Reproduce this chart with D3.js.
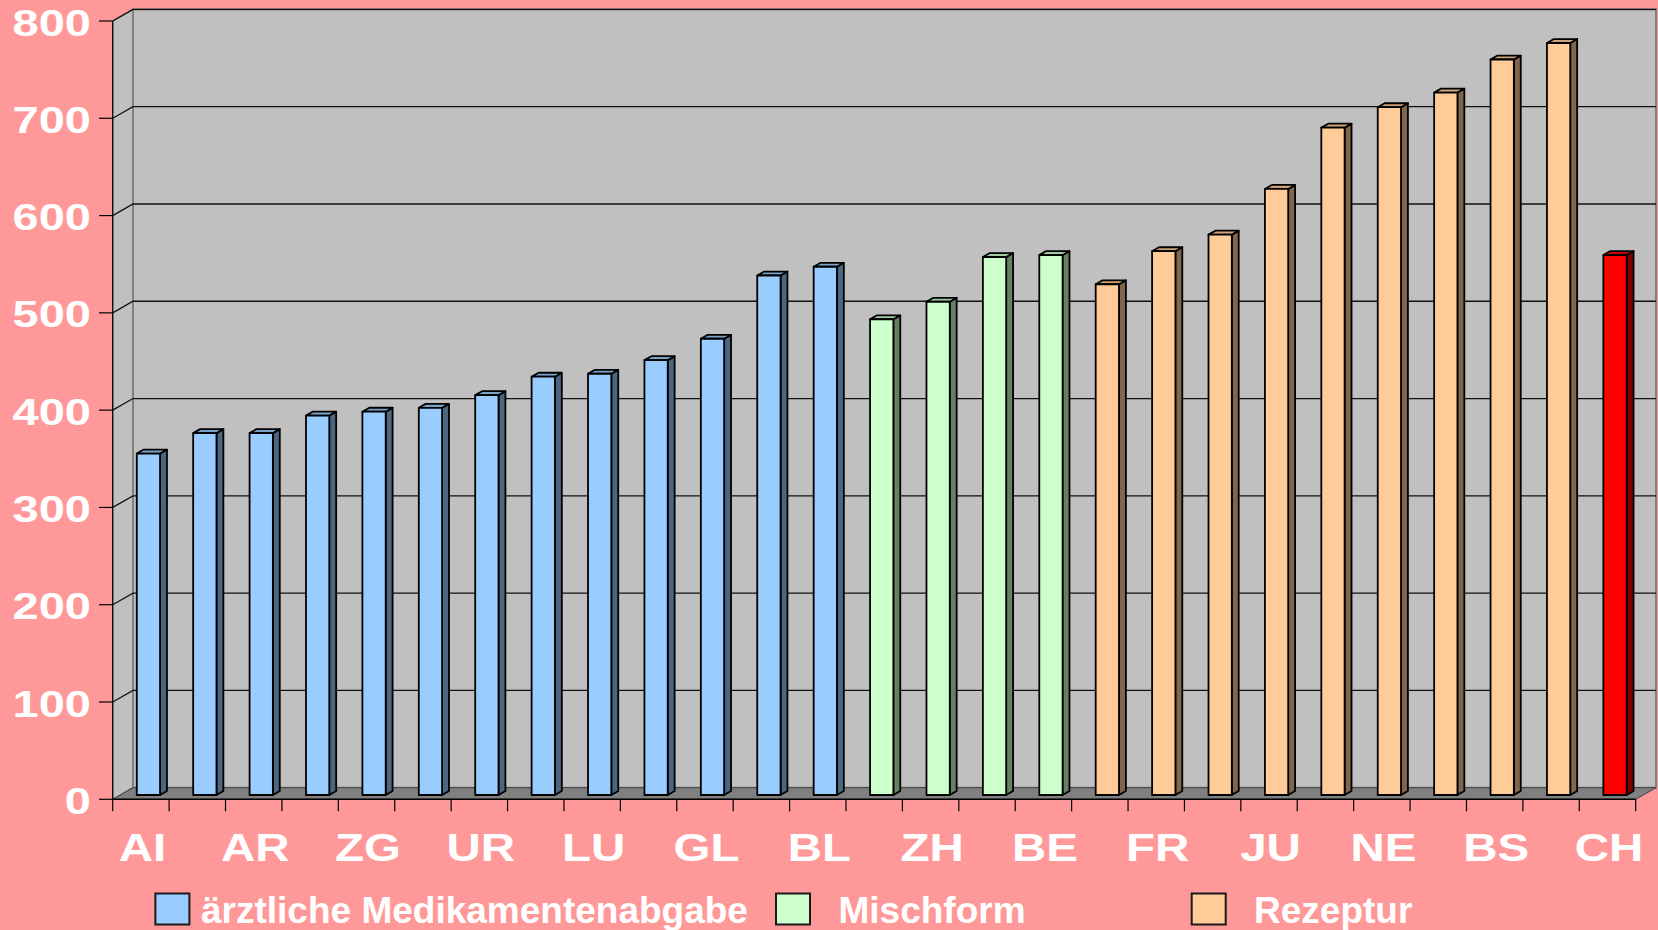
<!DOCTYPE html>
<html>
<head>
<meta charset="utf-8">
<script src="https://cdn.jsdelivr.net/npm/d3@7"></script>
<style>
  body { margin: 0; background: #ff9999; }
  svg { display: block; }
  text { font-family: Arial, "Liberation Sans", sans-serif; font-weight: bold; fill: white; }
</style>
</head>
<body>
<div id="chart"></div>
<script>
// Kantone (nur jedes zweite Label wird angezeigt)
var categories = ["AI", "OW", "AR", "NW", "ZG", "SZ", "UR", "TG", "LU", "SG", "GL", "SO", "BL",
  "SH", "ZH", "GR", "BE",
  "AG", "FR", "TI", "JU", "VS", "NE", "VD", "BS", "GE",
  "CH"]
var values = [351, 372, 372, 390, 394, 398, 411, 430, 433, 447, 469, 534, 543,
  489, 507, 553, 555,
  525, 559, 576, 623, 686, 707, 722, 756, 773,
  555]
var groups = ["arzt", "arzt", "arzt", "arzt", "arzt", "arzt", "arzt", "arzt", "arzt", "arzt", "arzt", "arzt", "arzt",
  "misch", "misch", "misch", "misch",
  "rez", "rez", "rez", "rez", "rez", "rez", "rez", "rez", "rez",
  "ch"]
var yTicks = [0, 100, 200, 300, 400, 500, 600, 700, 800]
var legendNames = ["ärztliche Medikamentenabgabe", "Mischform", "Rezeptur"]
var legendGroups = ["arzt", "misch", "rez"]

const W = 1658, H = 930
// 3D-Versatz der Rückwand
const DX = 20.3, DY = 11.6
const x0 = 112.7, x1 = 1635.7

// Farben: Front, Seite, Deckel
const colors = {
  arzt: ["#99ccff", "#4d6680", "#7aa3cc"],
  misch: ["#ccffcc", "#668066", "#a3cca3"],
  rez: ["#ffcc99", "#80664d", "#cca37a"],
  ch: ["#ff0000", "#800000", "#cc0000"]
}

var svg = d3.select("#chart").append("svg")
  .attr("width", W)
  .attr("height", H)

svg.append("rect").attr("width", W).attr("height", H).attr("fill", "#ff9999")

const xScale = d3.scaleBand()
  .domain(categories)
  .range([x0, x1])
  .paddingInner(0)

const yScale = d3.scaleLinear()
  .domain([0, 800])
  .range([799.3, 21])

// Punkt in der Tiefe z (0 = vorne, 1 = hinten)
function P(x, y, z) {
  return [x + z * DX, y - z * DY]
}
function poly(pts) {
  return "M" + pts.map(p => p[0] + "," + p[1]).join("L") + "Z"
}

var yTop = yScale(800), yBot = yScale(0)

// Seitenwand links
svg.append("path")
  .attr("d", poly([P(x0, yTop, 0), P(x0, yTop, 1), P(x0, yBot, 1), P(x0, yBot, 0)]))
  .attr("fill", "#c0c0c0")
  .attr("stroke", "#808080")
  .attr("stroke-width", 1.5)

// Rückwand
svg.append("path")
  .attr("d", poly([P(x0, yTop, 1), P(x1, yTop, 1), P(x1, yBot, 1), P(x0, yBot, 1)]))
  .attr("fill", "#c0c0c0")
  .attr("stroke", "#808080")
  .attr("stroke-width", 2)

// Gitterlinien
var grid = svg.append("g").attr("class", "grid")
yTicks.filter(d => d > 0).forEach(function(v) {
  var a = P(x0, yScale(v), 0), b = P(x0, yScale(v), 1), c = P(x1, yScale(v), 1)
  grid.append("path")
    .attr("d", "M" + a + "L" + b + "L" + c)
    .attr("fill", "none")
    .attr("stroke", "#111")
    .attr("stroke-width", 1.3)
})

// Boden
svg.append("path")
  .attr("d", poly([P(x0, yBot, 0), P(x0, yBot, 1), P(x1, yBot, 1), P(x1, yBot, 0)]))
  .attr("fill", "#808080")
  .attr("stroke", "#404040")
  .attr("stroke-width", 1)

// Balken
const bw = xScale.bandwidth() * 0.413
const z1 = 0.37, z2 = 0.71

var bars = svg.append("g").attr("class", "bars")
  .selectAll("g")
  .data(categories.map((c, i) => ({ name: c, value: values[i], group: groups[i] })))
  .enter()
  .append("g")

bars.each(function(d) {
  var g = d3.select(this)
  var xl = xScale(d.name) + (xScale.bandwidth() - bw) / 2
  var xr = xl + bw
  var yt = yScale(d.value), yb = yScale(0)
  var col = colors[d.group]
  // Seite
  g.append("path")
    .attr("d", poly([P(xr, yt, z1), P(xr, yt, z2), P(xr, yb, z2), P(xr, yb, z1)]))
    .attr("fill", col[1])
    .attr("stroke", "black").attr("stroke-width", 1.8).attr("stroke-linejoin", "round")
  // Deckel
  g.append("path")
    .attr("d", poly([P(xl, yt, z1), P(xl, yt, z2), P(xr, yt, z2), P(xr, yt, z1)]))
    .attr("fill", col[2])
    .attr("stroke", "black").attr("stroke-width", 1.8).attr("stroke-linejoin", "round")
  // Front
  g.append("path")
    .attr("d", poly([P(xl, yt, z1), P(xr, yt, z1), P(xr, yb, z1), P(xl, yb, z1)]))
    .attr("fill", col[0])
    .attr("stroke", "black").attr("stroke-width", 1.8).attr("stroke-linejoin", "round")
})

// y-Achse
svg.append("line")
  .attr("x1", x0).attr("x2", x0)
  .attr("y1", yTop).attr("y2", yBot)
  .attr("stroke", "black").attr("stroke-width", 1.2)

var yAx = svg.append("g").attr("class", "VerticalAxis")
yAx.selectAll("line")
  .data(yTicks)
  .enter()
  .append("line")
  .attr("x1", x0 - 13.7).attr("x2", x0)
  .attr("y1", d => yScale(d)).attr("y2", d => yScale(d))
  .attr("stroke", "black").attr("stroke-width", 1.2)
yAx.selectAll("text")
  .data(yTicks)
  .enter()
  .append("text")
  .attr("transform", d => `translate(91,${yScale(d) + 14.5}) scale(1.27,1)`)
  .attr("text-anchor", "end")
  .style("font-size", "37px")
  .text(d => d)

// x-Achse
svg.append("line")
  .attr("x1", x0).attr("x2", x1)
  .attr("y1", yBot).attr("y2", yBot)
  .attr("stroke", "black").attr("stroke-width", 1.5)

var xAx = svg.append("g").attr("class", "HorizontalAxis")
var bounds = categories.map(c => xScale(c)).concat([x1])
xAx.selectAll("line")
  .data(bounds)
  .enter()
  .append("line")
  .attr("x1", d => d).attr("x2", d => d)
  .attr("y1", yBot).attr("y2", yBot + 12)
  .attr("stroke", "black").attr("stroke-width", 1.2)
xAx.selectAll("text")
  .data(categories.filter((c, i) => i % 2 == 0))
  .enter()
  .append("text")
  .attr("transform", d => `translate(${xScale(d) + xScale.bandwidth() / 2 + 1.5},861) scale(1.25,1)`)
  .attr("text-anchor", "middle")
  .style("font-size", "38px")
  .text(d => d)

// Legende
var legendBoxX = [155.4, 776, 1191.7]
var legendTextX = [201, 838.5, 1254]
var lg = svg.append("g").attr("class", "legend")
legendNames.forEach(function(name, i) {
  lg.append("rect")
    .attr("x", legendBoxX[i]).attr("y", 893.5)
    .attr("width", 34).attr("height", 31)
    .attr("fill", colors[legendGroups[i]][0])
    .attr("stroke", "#1a1a1a").attr("stroke-width", 2)
  lg.append("text")
    .attr("x", legendTextX[i]).attr("y", 922.5)
    .style("font-size", "37px")
    .text(name)
})
</script>
</body>
</html>
